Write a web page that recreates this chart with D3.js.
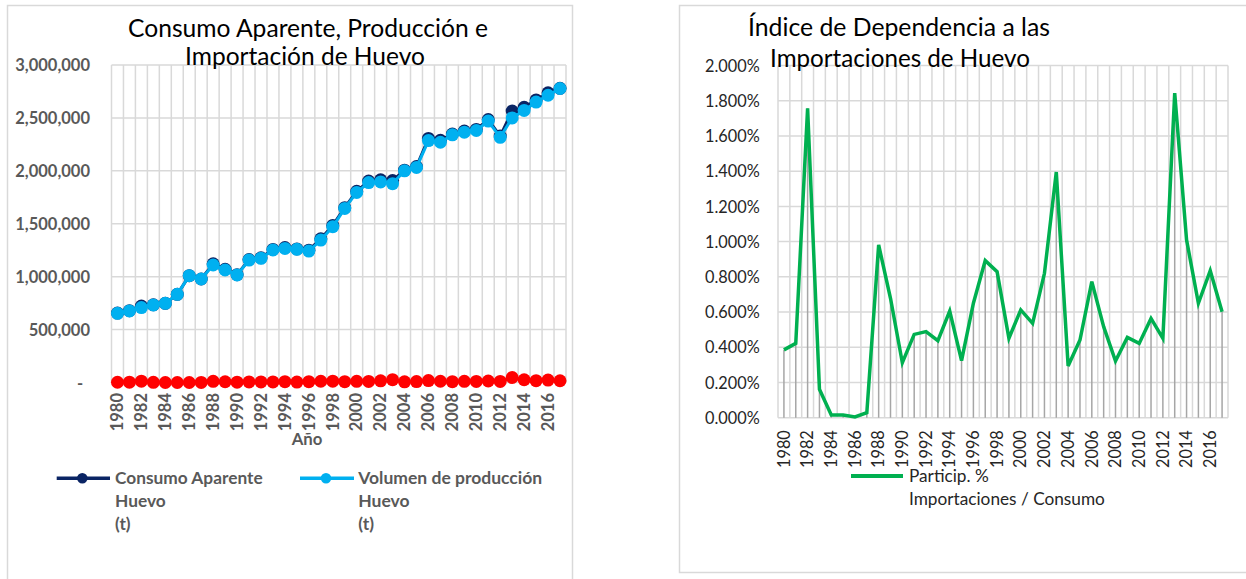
<!DOCTYPE html>
<html><head><meta charset="utf-8">
<script src="https://cdn.jsdelivr.net/npm/d3@7"></script>
<style>
html,body{margin:0;padding:0;background:#fff;}
svg{display:block;font-family:Lato,"Open Sans",sans-serif;}
</style></head>
<body>
<svg id="c" width="1246" height="579"></svg>
<script>
// ---------- DATA ----------
const years = [1980,1981,1982,1983,1984,1985,1986,1987,1988,1989,1990,1991,1992,1993,1994,1995,1996,1997,1998,1999,
               2000,2001,2002,2003,2004,2005,2006,2007,2008,2009,2010,2011,2012,2013,2014,2015,2016,2017];
const xTickYears = [1980,1982,1984,1986,1988,1990,1992,1994,1996,1998,2000,2002,2004,2006,2008,2010,2012,2014,2016];

// Consumo Aparente Huevo (t)
const consumo = [656000,679000,722000,734000,748000,833000,1009000,978000,1121000,1070000,
                 1019000,1162000,1179000,1257000,1275000,1262000,1250000,1358000,1484000,1652000,
                 1807000,1903000,1916000,1908000,2006000,2041000,2306000,2288000,2348000,2376000,
                 2391000,2484000,2328000,2565000,2600000,2670000,2737000,2780000];
// Volumen de producción Huevo (t)
const produccion = [654000,676000,708000,733000,748000,833000,1009000,978000,1110000,1063000,
                    1016000,1157000,1173000,1252000,1267000,1258000,1242000,1346000,1472000,1645000,
                    1796000,1889000,1895000,1879000,2000000,2032000,2286000,2270000,2340000,2365000,
                    2381000,2470000,2317000,2500000,2571000,2650000,2714000,2778000];
// Importaciones Huevo (t)
const importacion = [2500,2900,12700,1200,100,100,50,300,10900,7100,
                     3200,5400,5700,5500,7600,4100,8100,12000,12200,7400,
                     10900,10200,15600,26600,6000,9000,17800,11900,7600,10700,
                     10100,14000,10500,47000,26000,17400,22900,16700];
// Participación % Importaciones / Consumo
const indice = [0.00385,0.00422,0.01757,0.00161,0.00015,0.00015,0.00004,0.00028,0.00981,0.00678,
                0.00312,0.00473,0.00489,0.00437,0.00606,0.00324,0.00650,0.00892,0.00829,0.00451,
                0.00612,0.00536,0.00820,0.01395,0.00294,0.00441,0.00773,0.00517,0.00322,0.00456,
                0.00422,0.00564,0.00451,0.01843,0.01010,0.00650,0.00835,0.00602];

const leftYTicks = [0,500000,1000000,1500000,2000000,2500000,3000000];
const rightYTicks = [0,0.002,0.004,0.006,0.008,0.010,0.012,0.014,0.016,0.018,0.020];

// ---------- HELPERS ----------
const svg = d3.select("#c");
function fit(sel, w){
  const n = sel.node(); const fs = parseFloat(sel.attr("font-size"));
  const m = n.getComputedTextLength(); if(m>0) sel.attr("font-size", fs*w/m);
  return sel;
}
const GRID = "#D9D9D9";

// ---------- LEFT CHART ----------
svg.append("rect").attr("x",7.5).attr("y",5.5).attr("width",565).attr("height",620)
   .attr("fill","none").attr("stroke","#D9D9D9").attr("stroke-width",1.5);

const xL = d3.scaleBand().domain(years).range([111.5,566]).padding(0);
const yL = d3.scaleLinear().domain([0,3000000]).range([382.5,65]);
const gL = svg.append("g");

// gridlines
gL.append("g").selectAll("line").data(leftYTicks.filter(d=>d>0)).join("line")
  .attr("x1",xL.range()[0]).attr("x2",xL.range()[1])
  .attr("y1",d=>yL(d)).attr("y2",d=>yL(d)).attr("stroke",GRID).attr("stroke-width",1.5);
gL.append("g").selectAll("line").data(years.concat([null])).join("line")
  .attr("x1",(d,i)=>xL.range()[0]+i*xL.step()).attr("x2",(d,i)=>xL.range()[0]+i*xL.step())
  .attr("y1",yL(0)).attr("y2",yL(3000000)).attr("stroke",GRID).attr("stroke-width",1.5);
gL.append("line").attr("x1",xL.range()[0]).attr("x2",xL.range()[1]).attr("y1",yL(0)).attr("y2",yL(0))
  .attr("stroke",GRID).attr("stroke-width",1.5);

// y axis labels
const yAxisL = d3.axisLeft(yL).tickValues(leftYTicks).tickSize(0)
  .tickFormat(d=> d===0 ? "-" : d3.format(",")(d));
const yaxL = svg.append("g").attr("transform","translate(90,0)").call(yAxisL);
yaxL.select(".domain").remove();
yaxL.selectAll("text").attr("x",0).attr("dy","0.35em").attr("fill","#595959")
  .attr("font-weight","bold").attr("font-size",16.5).attr("font-family","Lato");
yaxL.selectAll("text").filter(d=>d===0).attr("text-anchor","middle").attr("x",-10);

// x axis labels
const xAxisL = d3.axisBottom(xL).tickValues(xTickYears).tickSize(0);
const xaxL = svg.append("g").attr("transform",`translate(0,${yL(0)})`).call(xAxisL);
xaxL.select(".domain").remove();
xaxL.selectAll("text").attr("transform","translate(0,10.5) rotate(-90)").attr("y",0).attr("x",0)
  .attr("dy","0.35em").attr("text-anchor","end").attr("fill","#595959")
  .attr("font-weight","bold").attr("font-size",16.5).attr("font-family","Lato");

// series
const lineL = d3.line().x((d,i)=>xL(years[i])+xL.bandwidth()/2).y(d=>yL(d));
function seriesL(data,color){
  const g = gL.append("g");
  g.append("path").datum(data).attr("d",lineL).attr("fill","none").attr("stroke",color).attr("stroke-width",3);
  g.selectAll("circle").data(data).join("circle")
   .attr("cx",(d,i)=>xL(years[i])+xL.bandwidth()/2).attr("cy",d=>yL(d)).attr("r",6.5).attr("fill",color);
}
seriesL(consumo,"#0A2464");
seriesL(produccion,"#00B0F0");
seriesL(importacion,"#FF0000");

// title
const tl1 = svg.append("text").attr("x",308).attr("y",37).attr("text-anchor","middle")
  .attr("font-size",22).attr("fill","#000").text("Consumo Aparente, Producción e");
fit(tl1,360);
const tl2 = svg.append("text").attr("x",305).attr("y",64.5).attr("text-anchor","middle")
  .attr("font-size",22).attr("fill","#000").text("Importación de Huevo");
fit(tl2,240);

// x axis title
const ano = svg.append("text").attr("x",307).attr("y",445).attr("text-anchor","middle")
  .attr("font-size",16).attr("font-weight","bold").attr("fill","#595959").text("Año");
fit(ano,30.7);

// legend
function legL(x0,x1,mx,tx,color,lines,w){
  svg.append("line").attr("x1",x0).attr("x2",x1).attr("y1",478.3).attr("y2",478.3)
     .attr("stroke",color).attr("stroke-width",3.5);
  svg.append("circle").attr("cx",mx).attr("cy",478.3).attr("r",5.3).attr("fill",color);
  const base=[484.3,507.3,530];
  let fs=16;
  lines.forEach((t,i)=>{
    const s = svg.append("text").attr("x",tx).attr("y",base[i]).attr("font-size",16)
      .attr("font-weight","bold").attr("fill","#595959").text(t);
    if(i===0){ fit(s,w); fs = parseFloat(s.attr("font-size")); } else s.attr("font-size",fs);
  });
}
legL(56.7,110,82.3,115,"#0A2464",["Consumo Aparente","Huevo","(t)"],147.7);
legL(300,354,326,358.3,"#00B0F0",["Volumen de producción","Huevo","(t)"],184);

// ---------- RIGHT CHART ----------
svg.append("rect").attr("x",679.5).attr("y",5.5).attr("width",620).attr("height",567)
   .attr("fill","none").attr("stroke","#D9D9D9").attr("stroke-width",1.5);

const xR = d3.scaleBand().domain(years).range([778,1228]).padding(0);
const yR = d3.scaleLinear().domain([0,0.02]).range([417.7,65.5]);
const gR = svg.append("g");
gR.append("g").selectAll("line").data(rightYTicks).join("line")
  .attr("x1",xR.range()[0]).attr("x2",xR.range()[1])
  .attr("y1",d=>yR(d)).attr("y2",d=>yR(d)).attr("stroke",GRID).attr("stroke-width",1.5);
gR.append("g").selectAll("line").data(years.concat([null])).join("line")
  .attr("x1",(d,i)=>xR.range()[0]+i*xR.step()).attr("x2",(d,i)=>xR.range()[0]+i*xR.step())
  .attr("y1",yR(0)).attr("y2",yR(0.02)).attr("stroke",GRID).attr("stroke-width",1.5);
// drop lines
gR.append("g").selectAll("line").data(indice).join("line")
  .attr("x1",(d,i)=>xR(years[i])+xR.bandwidth()/2).attr("x2",(d,i)=>xR(years[i])+xR.bandwidth()/2)
  .attr("y1",yR(0)).attr("y2",d=>yR(d)).attr("stroke","#A6A6A6").attr("stroke-width",1.5);
// line
const lineR = d3.line().x((d,i)=>xR(years[i])+xR.bandwidth()/2).y(d=>yR(d));
gR.append("path").datum(indice).attr("d",lineR).attr("fill","none").attr("stroke","#00B050")
  .attr("stroke-width",3.5).attr("stroke-linejoin","miter");

// axes
const yAxisR = d3.axisLeft(yR).tickValues(rightYTicks).tickSize(0).tickFormat(d3.format(".3%"));
const yaxR = svg.append("g").attr("transform","translate(759.7,0)").call(yAxisR);
yaxR.select(".domain").remove();
yaxR.selectAll("text").attr("x",0).attr("dy","0.35em").attr("fill","#262626")
  .attr("font-size",16.3).attr("font-family","Lato");
const xAxisR = d3.axisBottom(xR).tickValues(xTickYears).tickSize(0);
const xaxR = svg.append("g").attr("transform",`translate(0,${yR(0)})`).call(xAxisR);
xaxR.select(".domain").remove();
xaxR.selectAll("text").attr("transform","translate(0,12.5) rotate(-90)").attr("y",0).attr("x",0)
  .attr("dy","0.35em").attr("text-anchor","end").attr("fill","#262626")
  .attr("font-size",16.3).attr("font-family","Lato");

// title
const tr1 = svg.append("text").attr("x",899).attr("y",35.5).attr("text-anchor","middle")
  .attr("font-size",22).attr("fill","#000").text("Índice de Dependencia a las");
fit(tr1,302);
const tr2 = svg.append("text").attr("x",900).attr("y",66.5).attr("text-anchor","middle")
  .attr("font-size",22).attr("fill","#000").text("Importaciones de Huevo");
fit(tr2,260);

// legend
svg.append("line").attr("x1",851).attr("x2",903).attr("y1",476).attr("y2",476)
  .attr("stroke","#00B050").attr("stroke-width",4);
const lr1 = svg.append("text").attr("x",909).attr("y",481.7).attr("font-size",16).attr("fill","#262626").text("Particip. %");
const lr2 = svg.append("text").attr("x",909).attr("y",504.5).attr("font-size",16).attr("fill","#262626").text("Importaciones / Consumo");
fit(lr2,196); lr1.attr("font-size",lr2.attr("font-size"));
</script>
</body></html>
